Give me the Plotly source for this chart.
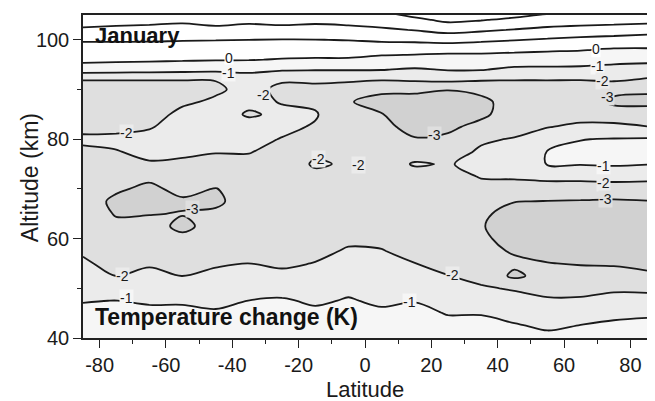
import numpy as np
import plotly.graph_objects as go

# ---- data ----
latitudes = [-85, -75, -65, -55, -45, -35, -25, -15, -5, 5, 15, 25, 35, 45, 55, 65, 75, 85]
altitudes = [40, 42.5, 45, 47.5, 50, 52.5, 55, 57.5, 60, 62.5, 65, 67.5, 70, 72.5, 75, 77.5,
             80, 82.5, 85, 87.5, 90, 92, 94, 96, 98, 100, 102, 104, 106]

# temperature change (K): one vertical profile (bottom -> top) per latitude
temp_change_by_lat = [
    [-0.6, -0.7, -0.85, -1.03, -1.3, -1.58, -1.86, -2.12, -2.3, -2.45, -2.6, -2.65, -2.55, -2.45, -2.35, -2.2, -1.8, -2.3, -2.5, -2.5, -2.4, -1.97, -0.55, 0.25, 0.63, 1.1, 1.82, 2.5, 3.17],
    [-0.55, -0.65, -0.8, -0.99, -1.49, -2.02, -2.3, -2.5, -2.65, -2.85, -3.05, -3.15, -2.9, -2.65, -2.4, -2.05, -1.75, -2.3, -2.5, -2.55, -2.4, -1.97, -0.6, 0.2, 0.6, 1.1, 1.72, 2.4, 3.05],
    [-0.5, -0.6, -0.8, -1.1, -1.44, -1.78, -2.1, -2.35, -2.55, -2.75, -3.03, -3.3, -3.15, -2.85, -2.1, -1.75, -1.6, -2.1, -2.4, -2.5, -2.4, -1.97, -0.65, 0.15, 0.6, 1.09, 1.68, 2.3, 3.0],
    [-0.5, -0.6, -0.8, -1.1, -1.5, -2.02, -2.3, -2.6, -2.85, -3.15, -2.97, -3.1, -2.8, -2.5, -2.15, -1.85, -1.6, -1.5, -1.75, -2.15, -2.35, -1.97, -0.7, 0.1, 0.55, 1.05, 1.63, 2.2, 2.9],
    [-0.45, -0.6, -0.9, -1.2, -1.5, -1.8, -2.1, -2.35, -2.55, -2.75, -2.93, -3.08, -3.03, -2.7, -2.3, -1.95, -1.65, -1.45, -1.5, -1.85, -2.15, -1.97, -0.75, 0.05, 0.52, 1.03, 1.72, 2.4, 3.1],
    [-0.45, -0.6, -0.75, -0.99, -1.32, -1.66, -1.99, -2.2, -2.4, -2.55, -2.7, -2.8, -2.7, -2.5, -2.25, -1.95, -1.7, -1.6, -2.12, -1.75, -1.7, -1.45, -0.78, 0.04, 0.5, 1.0, 1.62, 2.25, 2.9],
    [-0.4, -0.5, -0.65, -0.9, -1.33, -1.78, -2.15, -2.35, -2.5, -2.6, -2.65, -2.7, -2.65, -2.55, -2.45, -2.3, -2.05, -1.75, -1.8, -2.05, -2.2, -1.9, -0.9, -0.05, 0.42, 0.97, 1.73, 2.3, 2.95],
    [-0.4, -0.55, -0.8, -1.14, -1.42, -1.69, -1.97, -2.2, -2.4, -2.5, -2.6, -2.55, -2.4, -2.2, -1.9, -2.15, -2.35, -2.1, -1.9, -2.2, -2.3, -1.8, -0.95, -0.1, 0.45, 0.98, 1.63, 2.25, 2.85],
    [-0.35, -0.45, -0.6, -0.93, -1.18, -1.43, -1.67, -1.92, -2.15, -2.3, -2.4, -2.45, -2.4, -2.3, -2.1, -2.3, -2.5, -2.75, -2.92, -2.95, -2.6, -1.8, -0.95, -0.1, 0.45, 1.03, 1.7, 2.35, 2.9],
    [-0.35, -0.55, -0.85, -1.15, -1.36, -1.56, -1.76, -1.97, -2.15, -2.3, -2.45, -2.5, -2.5, -2.45, -2.4, -2.45, -2.6, -2.8, -2.97, -3.25, -2.85, -1.92, -0.97, -0.3, 0.4, 1.15, 1.85, 2.5, 3.1],
    [-0.4, -0.55, -0.75, -1.04, -1.35, -1.67, -1.99, -2.2, -2.35, -2.45, -2.5, -2.5, -2.45, -2.3, -1.93, -2.35, -2.95, -3.25, -3.35, -3.3, -2.85, -1.85, -1.1, -0.4, 0.37, 1.2, 2.04, 2.8, 3.6],
    [-0.55, -0.75, -1.05, -1.36, -1.67, -1.98, -2.25, -2.4, -2.5, -2.6, -2.65, -2.6, -2.5, -2.3, -2.05, -2.3, -2.8, -3.2, -3.4, -3.4, -2.97, -1.75, -0.95, -0.45, 0.28, 1.35, 2.32, 3.2, 4.0],
    [-0.5, -0.75, -1.05, -1.45, -1.9, -2.25, -2.5, -2.7, -2.85, -2.95, -2.9, -2.6, -2.25, -1.95, -1.8, -1.9, -2.1, -2.7, -3.2, -3.25, -2.75, -1.9, -0.95, -0.4, 0.25, 1.2, 2.15, 3.05, 3.9],
    [-0.6, -0.93, -1.3, -1.7, -2.08, -3.2, -2.8, -3.1, -3.3, -3.35, -3.2, -2.98, -2.5, -1.85, -1.7, -1.75, -1.95, -2.3, -2.5, -2.55, -2.4, -1.97, -1.2, -0.5, 0.2, 1.04, 1.95, 2.8, 3.65],
    [-0.8, -1.13, -1.5, -1.9, -2.25, -2.6, -2.98, -3.2, -3.35, -3.4, -3.3, -3.02, -2.5, -1.7, -0.95, -0.97, -1.5, -2.03, -2.4, -2.5, -2.4, -1.97, -1.2, -0.55, 0.12, 0.9, 1.77, 2.55, 3.3],
    [-0.7, -0.98, -1.43, -1.87, -2.3, -2.7, -3.05, -3.3, -3.4, -3.45, -3.35, -3.05, -2.5, -1.7, -0.95, -0.85, -1.02, -1.85, -2.3, -2.5, -2.45, -1.97, -1.2, -0.62, 0.05, 0.75, 1.65, 2.45, 3.15],
    [-0.55, -0.85, -1.2, -1.7, -2.15, -2.65, -3.1, -3.35, -3.45, -3.45, -3.35, -3.1, -2.5, -1.6, -0.9, -0.7, -0.95, -1.8, -2.45, -3.2, -2.75, -1.85, -1.35, -0.7, -0.1, 0.65, 1.55, 2.4, 3.2],
    [-0.5, -0.75, -1.15, -1.65, -2.2, -2.85, -3.2, -3.4, -3.45, -3.45, -3.35, -3.03, -2.45, -1.7, -0.97, -0.75, -0.9, -1.98, -2.5, -3.25, -2.85, -2.1, -1.45, -0.75, -0.1, 0.55, 1.4, 2.35, 3.1],
]

lat_ticks = [-80, -60, -40, -20, 0, 20, 40, 60, 80]
alt_ticks = [40, 60, 80, 100]

# contour-line labels as printed on the chart
label_texts = ["0", "0", "-1", "-1", "-1", "-1", "-1",
               "-2", "-2", "-2", "-2", "-2", "-2", "-2", "-2",
               "-3", "-3", "-3", "-3"]
label_lats = [-41, 69.5, -41, 70, 72, -72, 13.5,
              -30.5, -72, 71.5, 72, -73, 26.5, -14, -2,
              21, 73, 72.5, -52]
label_alts = [96.4, 98.1, 93.3, 94.8, 74.7, 48.0, 47.2,
              89.0, 81.2, 91.7, 71.2, 52.4, 52.6, 76.0, 74.8,
              80.9, 88.6, 67.9, 66.0]

# grey shades of the filled bands, from coldest (< -3 K) to warmest (> 0 K)
band_colors = ['#d1d1d1', '#dfdfdf', '#ebebeb', '#f6f6f6', '#ffffff']
label_bg = {"0": '#ffffff', "-1": '#f6f6f6', "-2": '#ebebeb', "-3": '#dfdfdf'}

# ---- figure ----
z = np.array(temp_change_by_lat).T

n_steps = 7  # contour colour map spans start-size/2 .. end+size/2 with 7 steps
colorscale = [[0.0, band_colors[0]], [1 / n_steps, band_colors[1]], [2 / n_steps, band_colors[2]],
              [3 / n_steps, band_colors[3]], [4 / n_steps, band_colors[4]], [1.0, band_colors[4]]]

fig = go.Figure(go.Contour(
    x=latitudes, y=altitudes, z=z,
    autocontour=False,
    contours=dict(start=-3, end=3, size=1, coloring='fill', showlines=True),
    colorscale=colorscale, showscale=False,
    line=dict(color='#1a1a1a', width=1.8, smoothing=1.0),
    hoverinfo='skip',
))

font_family = 'Arial, "Liberation Sans", Helvetica, sans-serif'
axis_color = '#222222'

# the page body keeps its default 8 px margin, so the figure is 8 px smaller
fig.update_layout(
    width=647, height=393,
    margin=dict(l=75, r=8, t=7, b=63),
    paper_bgcolor='white', plot_bgcolor='white',
    font=dict(family=font_family, color='#1a1a1a'),
    showlegend=False,
)

fig.update_xaxes(
    range=[-85, 85], tickmode='array', tickvals=lat_ticks, ticktext=[str(v) for v in lat_ticks],
    ticks='outside', ticklen=8, tickwidth=1.3, tickcolor=axis_color,
    minor=dict(ticks='outside', dtick=10, tick0=0, ticklen=4, tickwidth=1.3, tickcolor=axis_color),
    showline=True, linecolor=axis_color, linewidth=1.5, mirror=True,
    showgrid=False, zeroline=False, automargin=False,
    tickfont=dict(size=20, color='#1a1a1a'),
)
fig.update_yaxes(
    range=[40, 105], tickmode='array', tickvals=alt_ticks, ticktext=[str(v) for v in alt_ticks],
    ticks='outside', ticklen=8, tickwidth=1.3, tickcolor=axis_color,
    minor=dict(ticks='outside', dtick=10, tick0=0, ticklen=4, tickwidth=1.3, tickcolor=axis_color),
    showline=True, linecolor=axis_color, linewidth=1.5, mirror='ticks',
    showgrid=False, zeroline=False, automargin=False,
    tickfont=dict(size=20, color='#1a1a1a'),
)

# axis titles
fig.add_annotation(x=0.5, y=-0.158, xref='paper', yref='paper', xanchor='center', yanchor='middle',
                   text='Latitude', showarrow=False,
                   font=dict(size=22, color='#1a1a1a', family=font_family))
fig.add_annotation(x=-0.094, y=0.498, xref='paper', yref='paper', xanchor='center', yanchor='middle',
                   text='Altitude (km)', textangle=-90, showarrow=False,
                   font=dict(size=23, color='#1a1a1a', family=font_family))

for t, la, al in zip(label_texts, label_lats, label_alts):
    fig.add_annotation(x=la, y=al, xref='x', yref='y', text=t, showarrow=False,
                       font=dict(size=14, color='#1a1a1a', family=font_family),
                       bgcolor=label_bg[t], borderpad=0)

fig.add_annotation(x=0.018, y=0.935, xref='paper', yref='paper', xanchor='left', yanchor='middle',
                   text='<b>January</b>', showarrow=False,
                   font=dict(size=22, color='#111111', family=font_family))
fig.add_annotation(x=0.018, y=0.066, xref='paper', yref='paper', xanchor='left', yanchor='middle',
                   text='<b>Temperature change (K)</b>', showarrow=False,
                   font=dict(size=23, color='#111111', family=font_family))

fig.write_html("out.html")
